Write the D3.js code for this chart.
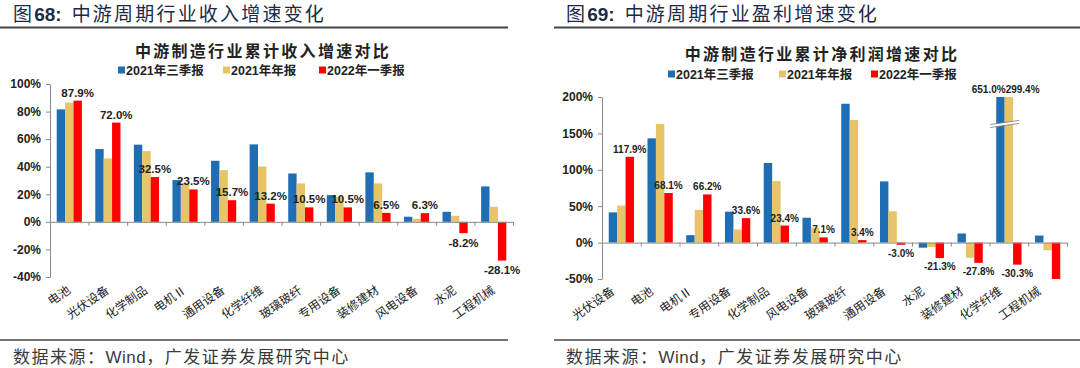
<!DOCTYPE html>
<html>
<head>
<meta charset="utf-8">
<script src="https://cdnjs.cloudflare.com/ajax/libs/d3/7.8.5/d3.min.js"></script>
<style>
  body { margin: 0; background: #fff; }
  svg { display: block; }
  .fig-title { font-family: "Noto Sans CJK SC", sans-serif; font-size: 19px; fill: #1c2a46; letter-spacing: 2.2px; }
  .fig-title .num { font-family: "Liberation Sans", Arial, sans-serif; font-weight: bold; letter-spacing: 0; }
  .chart-title { font-family: "Noto Sans CJK SC", sans-serif; font-size: 16px; font-weight: bold; fill: #222; letter-spacing: 2.3px; }
  .legend text { font-family: "Liberation Sans", "Noto Sans CJK SC", sans-serif; font-size: 12.5px; font-weight: bold; fill: #222; }
  .axis path, .axis line { stroke: #8a8a8a; }
  .axis text { font-family: "Liberation Sans", Arial, sans-serif; font-size: 12px; font-weight: bold; fill: #222; }
  .cat { font-family: "Noto Sans CJK SC", sans-serif; font-size: 12px; fill: #222; }
  .val { font-family: "Liberation Sans", Arial, sans-serif; font-weight: bold; fill: #222; }
  .source { font-family: "Noto Sans CJK SC", sans-serif; font-size: 17px; fill: #3a3a3a; letter-spacing: 1.5px; }
  .source .en { font-family: "Liberation Sans", Arial, sans-serif; letter-spacing: 0.5px; }
  .rule { stroke: #444; }
</style>
</head>
<body>
<svg width="1080" height="368"></svg>
<script>
// shared legend
var seriesNames = ["2021年三季报", "2021年年报", "2022年一季报"];
var seriesColors = ["#1f6db2", "#e6c46a", "#ff0000"];

// 图68 收入增速
var revenueCats = ["电池", "光伏设备", "化学制品", "电机Ⅱ", "通用设备", "化学纤维", "玻璃玻纤", "专用设备", "装修建材", "风电设备", "水泥", "工程机械"];
var revenueQ3 = [81.6, 52.8, 56.0, 30.3, 44.3, 56.2, 35.1, 19.4, 35.9, 3.7, 7.3, 25.7];
var revenueYear = [86.4, 46.0, 51.3, 28.0, 37.5, 40.2, 27.9, 18.0, 27.9, 2.2, 4.4, 10.9];
var revenueQ1 = [87.9, 72.0, 32.5, 23.5, 15.7, 13.2, 10.5, 10.5, 6.5, 6.3, -8.2, -28.1];
var revenueTicks = [-40, -20, 0, 20, 40, 60, 80, 100];

// 图69 净利润增速
var profitCats = ["光伏设备", "电池", "电机Ⅱ", "专用设备", "化学制品", "风电设备", "玻璃玻纤", "通用设备", "水泥", "装修建材", "化学纤维", "工程机械"];
var profitQ3 = [41.5, 143.2, 10.2, 42.5, 109.4, 34.2, 190.7, 84.0, -7.0, 12.5, 651.0, 9.7];
var profitYear = [50.8, 163.0, 44.9, 18.0, 84.5, 20.8, 168.5, 43.0, -6.0, -20.8, 299.4, -10.5];
var profitQ1 = [117.9, 68.1, 66.2, 33.6, 23.4, 7.1, 3.4, -3.0, -21.3, -27.8, -30.3, -51.0];
var profitTicks = [-50, 0, 50, 100, 150, 200];
var profitNoLabel = ["工程机械"];

var svg = d3.select("svg");

function pct(v) { return v.toFixed(1) + "%"; }

function drawPanel(p) {
  var g = svg.append("g");

  // figure title + rules
  var t = g.append("text").attr("class", "fig-title").attr("x", p.titleX).attr("y", 21);
  t.append("tspan").text("图");
  t.append("tspan").attr("class", "num").text(p.figNo + ":");
  t.append("tspan").attr("dx", 10).text(p.figTitle);
  g.append("line").attr("class", "rule").attr("x1", p.ruleX0).attr("x2", p.ruleX1)
    .attr("y1", 27.5).attr("y2", 27.5).attr("stroke-width", 2);
  g.append("line").attr("class", "rule").attr("x1", p.ruleX0).attr("x2", p.ruleX1)
    .attr("y1", 340).attr("y2", 340).attr("stroke-width", 1.5);
  var s = g.append("text").attr("class", "source").attr("x", p.titleX).attr("y", 363);
  s.append("tspan").text("数据来源：");
  s.append("tspan").attr("class", "en").text("Wind");
  s.append("tspan").text("，广发证券发展研究中心");

  // chart title
  g.append("text").attr("class", "chart-title").attr("x", p.chartTitleX).attr("y", p.chartTitleY)
    .attr("text-anchor", "middle").text(p.chartTitle);

  // legend
  var lg = g.append("g").attr("class", "legend");
  seriesNames.forEach(function (name, i) {
    lg.append("rect").attr("x", p.legendX[i]).attr("y", p.legendY - 3.5)
      .attr("width", 7).attr("height", 7).attr("fill", seriesColors[i]);
    lg.append("text").attr("x", p.legendX[i] + 8).attr("y", p.legendY + 4.5).text(name);
  });

  // scales
  var y = d3.scaleLinear().domain(p.yDomain).range([p.y1, p.y0]).clamp(true);
  var x = d3.scaleBand().domain(p.cats).range([p.x0, p.x1]).padding(0);
  var xs = d3.scaleBand().domain([0, 1, 2]).range([0, x.bandwidth()]).paddingOuter(0.8);
  var xi = d3.scaleLinear().domain([0, p.cats.length]).range([p.x0, p.x1]);

  var rows = p.cats.map(function (c, i) {
    return { cat: c, vals: [p.series[0][i], p.series[1][i], p.series[2][i]] };
  });

  // bars
  var grp = g.selectAll("g.grp").data(rows).enter().append("g")
    .attr("transform", function (d) { return "translate(" + x(d.cat) + ",0)"; });
  grp.selectAll("rect").data(function (d) { return d.vals; }).enter().append("rect")
    .attr("x", function (d, i) { return xs(i); })
    .attr("width", xs.bandwidth())
    .attr("y", function (d) { return y(Math.max(0, d)); })
    .attr("height", function (d) { return Math.abs(y(d) - y(0)); })
    .attr("fill", function (d, i) { return seriesColors[i]; });

  // axes
  g.append("g").attr("class", "axis").attr("transform", "translate(" + p.x0 + ",0)")
    .call(d3.axisLeft(y).tickValues(p.ticks).tickSize(4).tickSizeOuter(0)
      .tickFormat(function (d) { return d + "%"; }))
    .call(function (a) { a.selectAll("text").attr("x", -9); });
  g.append("g").attr("class", "axis").attr("transform", "translate(0," + y(0) + ")")
    .call(d3.axisBottom(xi).tickValues(d3.range(1, p.cats.length + 1)).tickSize(4).tickSizeOuter(0)
      .tickFormat(""));

  // category labels
  g.selectAll("text.cat").data(p.cats).enter().append("text").attr("class", "cat")
    .attr("text-anchor", "end")
    .attr("transform", function (d) {
      return "translate(" + (x(d) + x.bandwidth() / 2 + p.catDx) + "," + (p.y1 + p.catDy) + ") rotate(-35)";
    })
    .text(function (d) { return d; });

  // red value labels
  rows.forEach(function (r) {
    var cx = x(r.cat);
    var v = r.vals[2];
    if (p.noLabel.indexOf(r.cat) < 0) {
      g.append("text").attr("class", "val").attr("font-size", p.valSize)
        .attr("text-anchor", "middle")
        .attr("x", cx + xs(2) + xs.bandwidth() / 2)
        .attr("y", v >= 0 ? y(v) - 4 : y(v) + p.valSize + 2)
        .text(pct(v));
    }
    // values beyond the axis: break mark + labels on top
    var over = r.vals.slice(0, 2).map(function (d) { return d > p.yDomain[1]; });
    if (over[0] || over[1]) {
      var top = y(p.yDomain[1]);
      g.append("text").attr("class", "val").attr("font-size", p.valSize).attr("text-anchor", "end")
        .attr("x", cx + xs(0) + xs.bandwidth() + 1).attr("y", top - 4).text(pct(r.vals[0]));
      g.append("text").attr("class", "val").attr("font-size", p.valSize).attr("text-anchor", "start")
        .attr("x", cx + xs(1) + 1).attr("y", top - 4).text(pct(r.vals[1]));
      var bx0 = cx + xs(0) - 6, bx1 = cx + xs(1) + xs.bandwidth() + 6, by = y(p.breakAt);
      g.append("path")
        .attr("d", "M" + bx0 + "," + (by + 2) + "L" + bx1 + "," + (by - 2) + "L" + bx1 + "," + (by + 1) + "L" + bx0 + "," + (by + 5) + "Z")
        .attr("fill", "#fff");
      [0, 3].forEach(function (o) {
        g.append("line").attr("x1", bx0).attr("y1", by + 2 + o).attr("x2", bx1).attr("y2", by - 2 + o)
          .attr("stroke", "#777").attr("stroke-width", 0.8);
      });
    }
  });
}

drawPanel({
  figNo: "68", figTitle: "中游周期行业收入增速变化", titleX: 13, ruleX0: 0, ruleX1: 508,
  chartTitle: "中游制造行业累计收入增速对比", chartTitleX: 263, chartTitleY: 57,
  legendX: [118, 223, 319], legendY: 70,
  cats: revenueCats, series: [revenueQ3, revenueYear, revenueQ1],
  yDomain: [-40, 100], ticks: revenueTicks,
  x0: 50, x1: 513, y0: 84, y1: 277,
  catDx: 2, catDy: 15, valSize: 11.5, noLabel: []
});

drawPanel({
  figNo: "69", figTitle: "中游周期行业盈利增速变化", titleX: 566, ruleX0: 554, ruleX1: 1080,
  chartTitle: "中游制造行业累计净利润增速对比", chartTitleX: 822, chartTitleY: 60,
  legendX: [668, 779, 871], legendY: 74,
  cats: profitCats, series: [profitQ3, profitYear, profitQ1],
  yDomain: [-50, 200], ticks: profitTicks,
  x0: 602, x1: 1067, y0: 97, y1: 279,
  catDx: -6, catDy: 14, valSize: 10, noLabel: profitNoLabel, breakAt: 165
});
</script>
</body>
</html>
